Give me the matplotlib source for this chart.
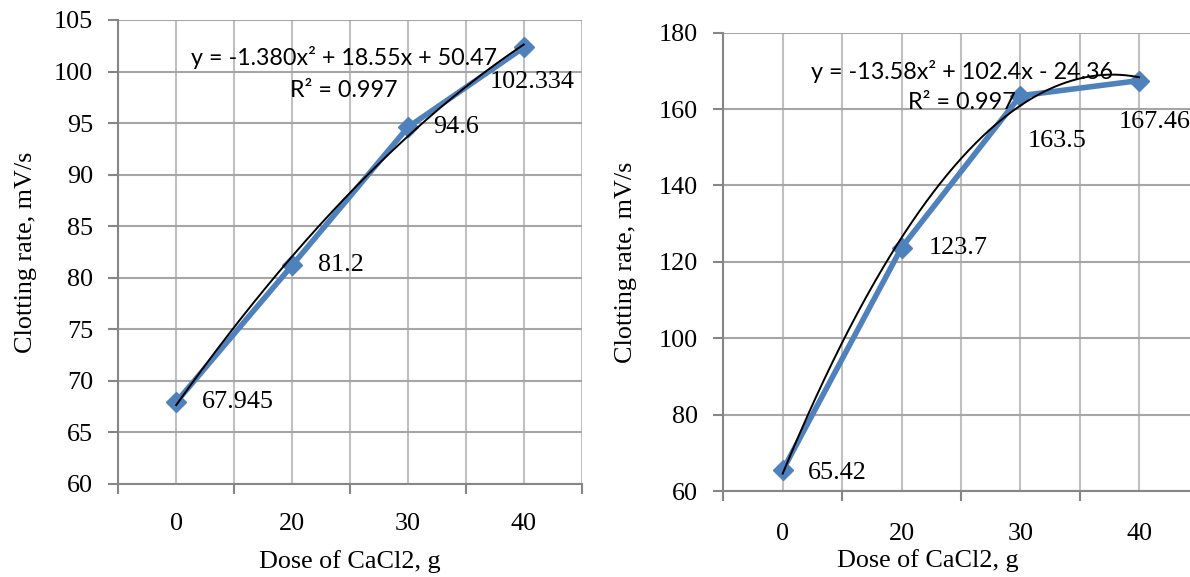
import numpy as np
import matplotlib
matplotlib.use("Agg")
import matplotlib.pyplot as plt
from matplotlib.ticker import FixedLocator, FixedFormatter, NullFormatter

# ---------------- data ----------------
doses = ["0", "20", "30", "40"]
rate_a = [67.945, 81.2, 94.6, 102.334]
rate_b = [65.42, 123.7, 163.5, 167.46]
labels_a = ["67.945", "81.2", "94.6", "102.334"]
labels_b = ["65.42", "123.7", "163.5", "167.46"]
eq_a = ["y = -1.380x\u00b2 + 18.55x + 50.47", "R\u00b2 = 0.997"]
eq_b = ["y = -13.58x\u00b2 + 102.4x - 24.36", "R\u00b2 = 0.997"]
yticks_a = [60, 65, 70, 75, 80, 85, 90, 95, 100, 105]
yticks_b = [60, 80, 100, 120, 140, 160, 180]
xlabel = "Dose of CaCl2, g"
ylabel = "Clotting rate, mV/s"

# ---------------- style ----------------
W, H = 1190, 577
SERIF = "Liberation Serif"
SANS = "Lato"
FS = 18.8
BLUE = "#4F81BD"
SPINE = "#868686"
HGRID = "#a6a6a6"
VGRID = "#c0c0c0"

plt.rcParams["font.family"] = [SERIF, "DejaVu Serif"]

fig = plt.figure(figsize=(W / 100, H / 100), dpi=100)


def px_axes(x0, x1, ytop, ybot):
    return fig.add_axes([x0 / W, 1 - ybot / H, (x1 - x0) / W, (ybot - ytop) / H])


ax_a = px_axes(118.3, 581.7, 20.0, 484.0)
ax_b = px_axes(723.3, 1198.5, 32.7, 491.0)

# label offsets (points)
offs_a = [(18.4, 0), (18.4, 0), (18.4, 0), (-24.8, -24.8)]
offs_b = [(18.4, -2.2), (19.7, 0), (5.0, -32.6), (-14.7, -29.8)]


def style_axes(ax, ylim, yticks, xl_pos, yl_pos, xpad):
    cats = np.arange(1, len(doses) + 1)
    ax.set_xlim(0.5, len(doses) + 0.5)
    ax.set_ylim(*ylim)
    ax.set_yticks(yticks)
    ax.xaxis.set_major_locator(FixedLocator(np.arange(0.5, len(doses) + 1, 1.0)))
    ax.xaxis.set_major_formatter(NullFormatter())
    ax.xaxis.set_minor_locator(FixedLocator(cats))
    ax.xaxis.set_minor_formatter(FixedFormatter(doses))
    ax.tick_params(axis="x", which="major", length=7, width=1.5, color=SPINE, direction="out")
    ax.tick_params(axis="x", which="minor", length=0, pad=xpad, labelsize=FS)
    ax.tick_params(axis="y", which="major", length=7, width=1.5, color=SPINE, pad=11, labelsize=FS)
    ax.yaxis.grid(True, color=HGRID, lw=1.5)
    ax.xaxis.grid(True, which="both", color=VGRID, lw=1.5)
    ax.set_axisbelow(True)
    for s in ("top", "right"):
        ax.spines[s].set_visible(False)
    for s in ("left", "bottom"):
        ax.spines[s].set_color(SPINE)
        ax.spines[s].set_linewidth(1.5)
    ax.set_xlabel(xlabel, fontsize=FS, va="center")
    ax.xaxis.set_label_coords(*xl_pos)
    ax.set_ylabel(ylabel, fontsize=FS, va="center")
    ax.yaxis.set_label_coords(*yl_pos)


def draw_series(ax, values, labels, offs):
    cats = np.arange(1, len(values) + 1)
    ax.plot(cats, values, color=BLUE, lw=4, marker="D", ms=10, zorder=3,
            solid_joinstyle="round")
    coef = np.polyfit(cats, values, 2)
    xs = np.linspace(cats[0], cats[-1], 300)
    ax.plot(xs, np.polyval(coef, xs), color="black", lw=1.4, zorder=4)
    for c, v, t, (dx, dy) in zip(cats, values, labels, offs):
        ax.annotate(t, (c, v), xytext=(dx, dy), textcoords="offset points",
                    ha="left", va="center", fontsize=FS, zorder=5)


style_axes(ax_a, (60, 105), yticks_a, (0.5, -0.166), (-0.199, 0.5), 21)
style_axes(ax_b, (60, 180), yticks_b, (0.431, -0.152), (-0.205, 0.5), 23)
draw_series(ax_a, rate_a, labels_a, offs_a)
draw_series(ax_b, rate_b, labels_b, offs_b)


def equation(ax, lines, xc, y1, y2, target_w):
    t1 = ax.text(xc, y1, lines[0], transform=ax.transAxes, ha="center", va="center",
                 fontsize=16, family=SANS, zorder=6)
    t2 = ax.text(xc, y2, lines[1], transform=ax.transAxes, ha="center", va="center",
                 fontsize=16, family=SANS, zorder=6)
    r = fig.canvas.get_renderer()
    w = t1.get_window_extent(r).width
    fs = 16 * target_w / w
    t1.set_fontsize(fs)
    t2.set_fontsize(fs)


equation(ax_a, eq_a, 0.487, 0.919, 0.849, 307)
equation(ax_b, eq_b, 0.502, 0.916, 0.847, 303)

fig.savefig("out.png", dpi=100)
